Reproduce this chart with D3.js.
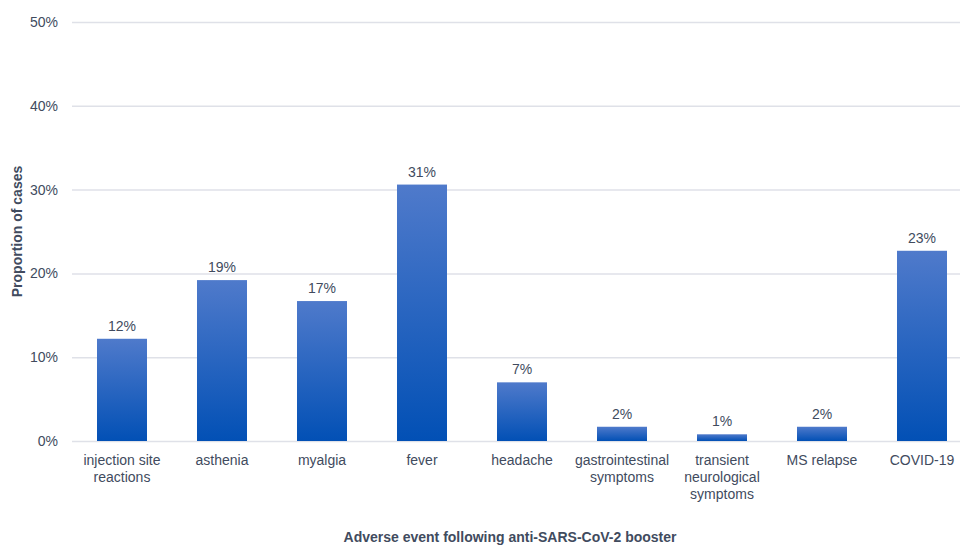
<!DOCTYPE html>
<html><head><meta charset="utf-8">
<script src="https://cdn.jsdelivr.net/npm/d3@7"></script>
<style>body{margin:0;background:#fff}svg{display:block;font-family:"Liberation Sans",Arial,sans-serif}</style>
</head><body><svg id="c" width="960" height="545"></svg>
<script>
const categories = [["injection site","reactions"],["asthenia"],["myalgia"],["fever"],["headache"],["gastrointestinal","symptoms"],["transient","neurological","symptoms"],["MS relapse"],["COVID-19"]];
const values = [12.2, 19.2, 16.7, 30.6, 7.0, 1.7, 0.8, 1.7, 22.7];
const labels = ["12%","19%","17%","31%","7%","2%","1%","2%","23%"];
const yTicks = [0,10,20,30,40,50];

const svg = d3.select("#c");
const mLeft = 72, mRight = 972, mTop = 22, mBottom = 441;
const x = d3.scaleBand().domain(d3.range(categories.length)).range([mLeft, mRight]).paddingInner(0.5).paddingOuter(0.25);
const y = d3.scaleLinear().domain([0,50]).range([mBottom, mTop]);
const txt = "#414b5e";

const defs = svg.append("defs");
const g = defs.append("linearGradient").attr("id","bg").attr("x1",0).attr("y1",0).attr("x2",0).attr("y2",1);
g.append("stop").attr("offset","0%").attr("stop-color","#4f7acb");
g.append("stop").attr("offset","100%").attr("stop-color","#0250b5");

svg.append("g").selectAll("line").data(yTicks).join("line")
  .attr("x1", mLeft).attr("x2", 960).attr("y1", d=>y(d)+0.5).attr("y2", d=>y(d)+0.5)
  .attr("stroke","#dfe1e8").attr("stroke-width",1.5);

const yAxis = d3.axisLeft(y).tickValues(yTicks).tickFormat(d=>d+"%").tickSize(0).tickPadding(14);
const ya = svg.append("g").attr("transform",`translate(${mLeft},0)`).call(yAxis);
ya.select(".domain").remove();
ya.selectAll("text").attr("fill",txt).attr("font-size",14).attr("font-family","Liberation Sans, Arial, sans-serif");

svg.append("g").selectAll("rect").data(values).join("rect")
  .attr("x",(d,i)=>x(i)).attr("width",x.bandwidth())
  .attr("y",d=>y(d)).attr("height",d=>mBottom-y(d))
  .attr("fill","url(#bg)");

svg.append("g").selectAll("text").data(values).join("text")
  .attr("x",(d,i)=>x(i)+x.bandwidth()/2).attr("y",d=>y(d)-8)
  .attr("text-anchor","middle").attr("fill",txt).attr("font-size",14)
  .text((d,i)=>labels[i]);

const cl = svg.append("g").selectAll("text").data(categories).join("text")
  .attr("x",(d,i)=>x(i)+x.bandwidth()/2).attr("y",465)
  .attr("text-anchor","middle").attr("fill",txt).attr("font-size",14);
cl.each(function(lines,i){
  const t = d3.select(this);
  lines.forEach((l,j)=>t.append("tspan").attr("x",x(i)+x.bandwidth()/2).attr("dy", j===0?0:17).text(l));
});

svg.append("text").attr("transform",`translate(22,${(mTop+mBottom)/2}) rotate(-90)`)
  .attr("text-anchor","middle").attr("fill",txt).attr("font-size",14).attr("font-weight","bold")
  .text("Proportion of cases");

svg.append("text").attr("x",510).attr("y",542).attr("text-anchor","middle").attr("fill",txt)
  .attr("font-size",14).attr("font-weight","bold").text("Adverse event following anti-SARS-CoV-2 booster");
</script></body></html>
